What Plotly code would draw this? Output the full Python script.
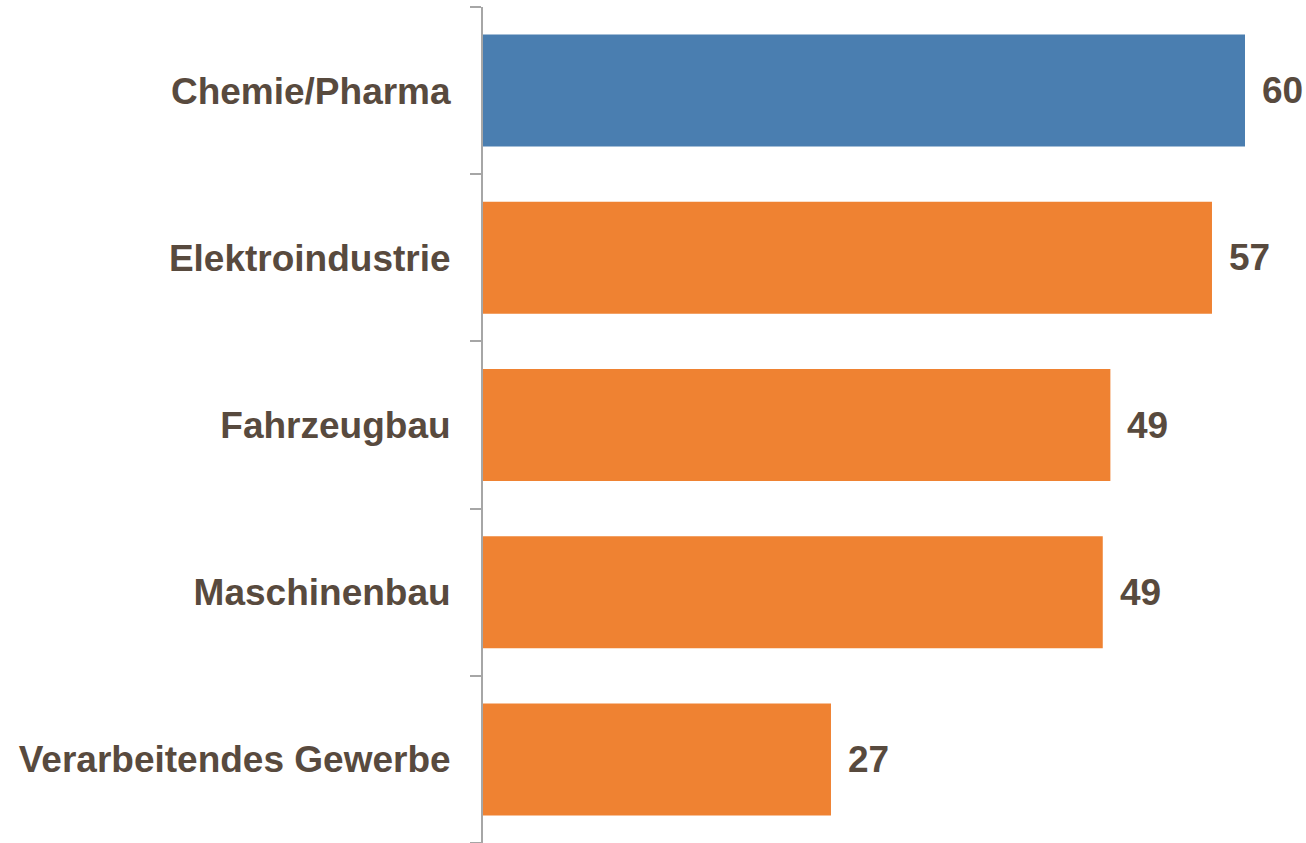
import plotly.graph_objects as go

categories = ["Chemie/Pharma", "Elektroindustrie", "Fahrzeugbau", "Maschinenbau", "Verarbeitendes Gewerbe"]
values = [60, 57.4, 49.4, 48.8, 27.4]
labels = ["60", "57", "49", "49", "27"]
colors = ["#4A7EB0", "#EF8232", "#EF8232", "#EF8232", "#EF8232"]

text_color = "#584A3E"
font_family = "Liberation Sans, Arial"

fig = go.Figure(go.Bar(
    x=values, y=categories, orientation="h",
    marker=dict(color=colors, line=dict(width=0)),
    width=0.67,
    hoverinfo="skip",
))

for c, v, t in zip(categories, values, labels):
    fig.add_annotation(x=v, y=c, text=t, showarrow=False, xanchor="left",
                       xshift=15, font=dict(family=font_family, size=37, color=text_color, weight="bold"))

fig.update_layout(
    width=1306, height=843,
    margin=dict(l=483, r=61, t=7, b=0),
    plot_bgcolor="white", paper_bgcolor="white",
    showlegend=False,
    font=dict(family=font_family, size=37, color=text_color),
)
fig.update_xaxes(range=[0, 60], visible=False, showgrid=False, zeroline=False)
fig.update_yaxes(
    categoryorder="array", categoryarray=categories[::-1],
    showline=True, linecolor="#A6A6A6", linewidth=2,
    ticks="outside", ticklen=11, tickcolor="#A6A6A6", tickwidth=2,
    tickson="boundaries", showgrid=False,
    tickfont=dict(family=font_family, size=37, color=text_color, weight="bold"),
    ticklabelstandoff=23,
)

fig.write_html("out.html", config={"displayModeBar": False},
               post_script="document.body.style.margin='0';document.body.style.overflow='hidden';")
